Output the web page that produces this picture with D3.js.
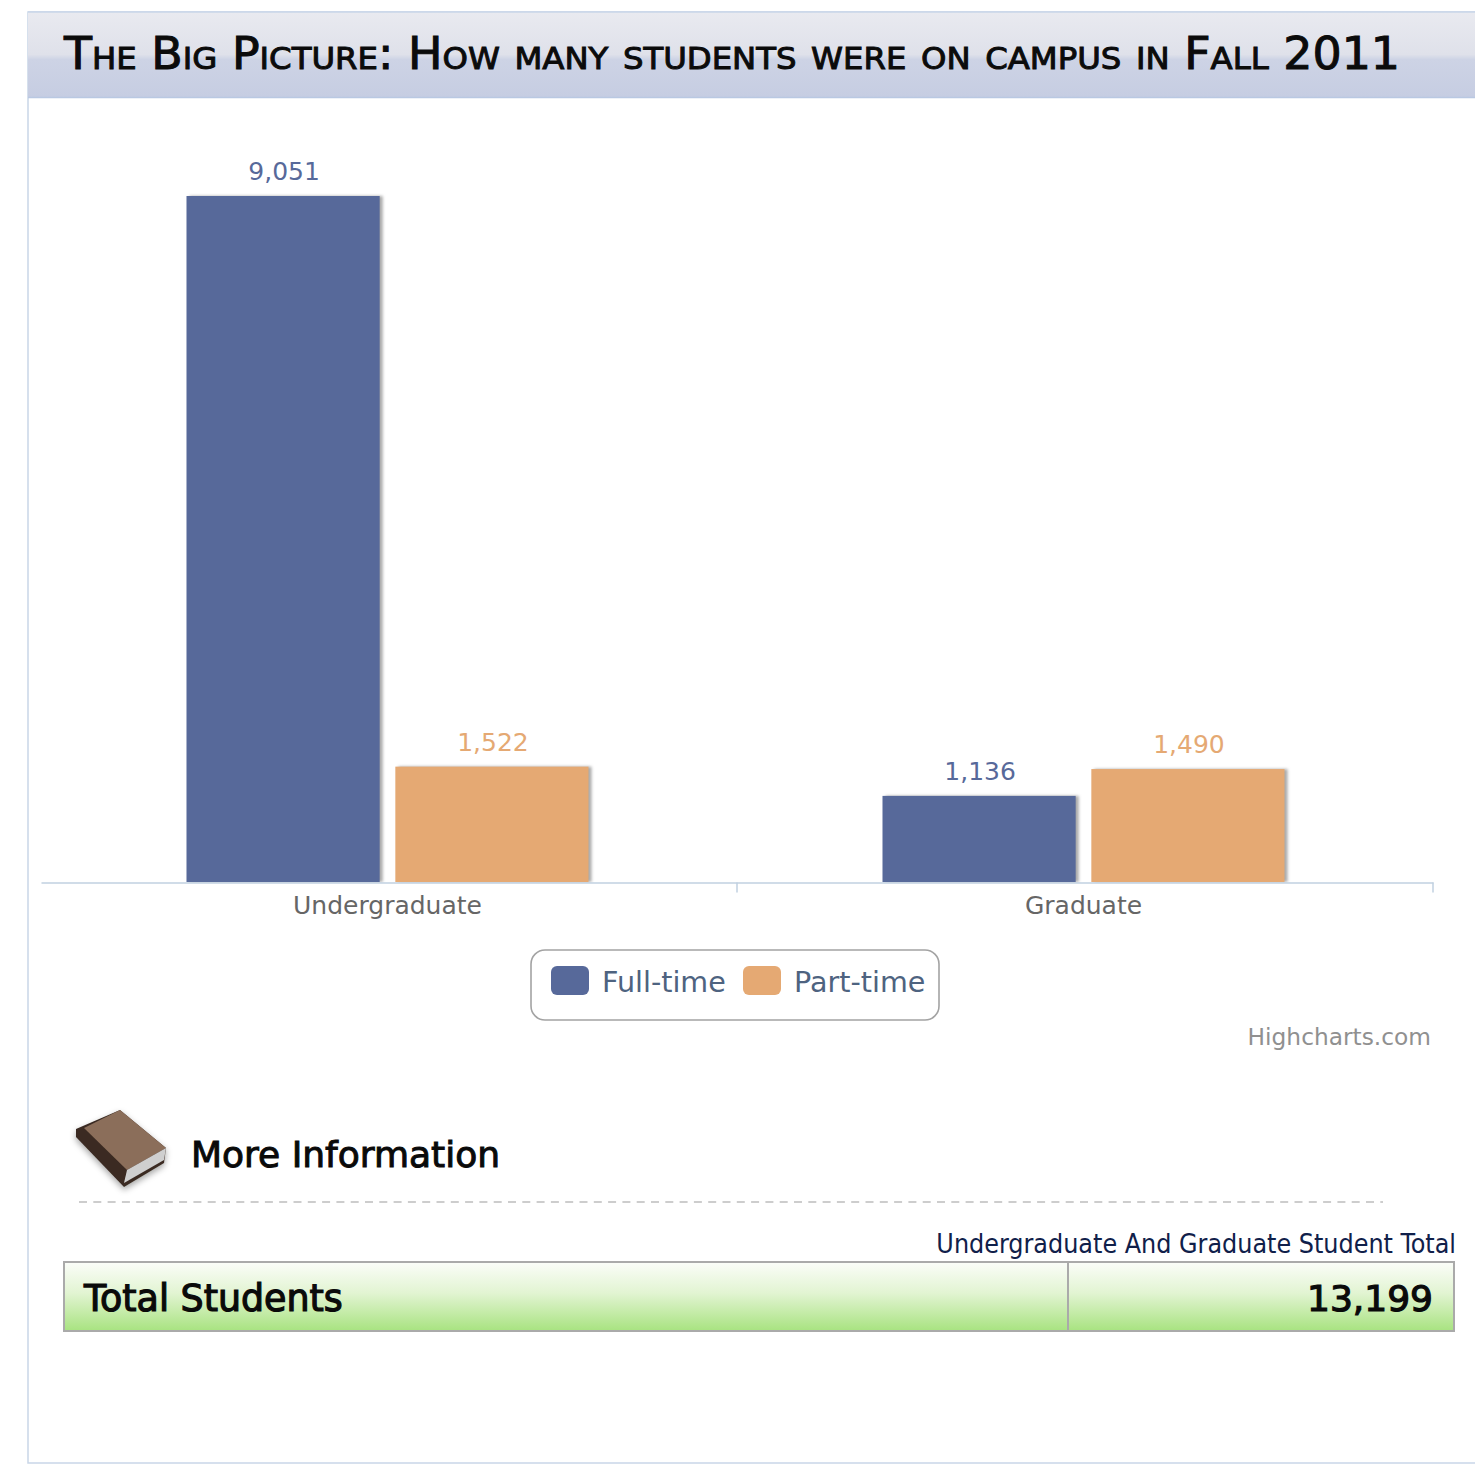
<!DOCTYPE html>
<html><head><meta charset="utf-8">
<script src="https://cdn.jsdelivr.net/npm/d3@7/dist/d3.min.js"></script>
<style>html,body{margin:0;padding:0;background:#fff;overflow:hidden}svg{display:block}text{font-family:"DejaVu Sans",sans-serif}</style>
</head><body><svg id="c" width="1475" height="1470"></svg>
<script>
const categories = ["Undergraduate", "Graduate"];
const seriesNames = ["Full-time", "Part-time"];
const fullTime = [9051, 1136];
const partTime = [1522, 1490];
const seriesColors = ["#57699a", "#e5a973"];
const titleText = "The Big Picture: How many students were on campus in Fall 2011";
const sectionText = "More Information";
const tableCaption = "Undergraduate And Graduate Student Total";
const tableLabel = "Total Students";
const tableValue = "13,199";
const credit = "Highcharts.com";

const svg = d3.select("#c");
const defs = svg.append("defs");
const hg = defs.append("linearGradient").attr("id","hg").attr("x1",0).attr("x2",0).attr("y1",0).attr("y2",1);
[[0,"#e9eaf0"],[0.5,"#dfe1ea"],[0.56,"#cdd3e5"],[1,"#c6cde2"]].forEach(s=>hg.append("stop").attr("offset",s[0]).attr("stop-color",s[1]));
const gg = defs.append("linearGradient").attr("id","gg").attr("x1",0).attr("x2",0).attr("y1",0).attr("y2",1);
[[0,"#fbfdf9"],[0.45,"#e2f4d2"],[1,"#a8e380"]].forEach(s=>gg.append("stop").attr("offset",s[0]).attr("stop-color",s[1]));
const bk = defs.append("filter").attr("id","bs").attr("x","-30%").attr("y","-30%").attr("width","160%").attr("height","160%");
bk.append("feDropShadow").attr("dx",0).attr("dy",3).attr("stdDeviation",3).attr("flood-color","#000").attr("flood-opacity",0.35);
const bl = defs.append("filter").attr("id","soft").attr("x","-10%").attr("y","-10%").attr("width","120%").attr("height","120%");
bl.append("feGaussianBlur").attr("stdDeviation",1.6);

// panel frame
svg.append("rect").attr("x",28).attr("y",12).attr("width",1460).attr("height",1451).attr("fill","#fff").attr("stroke","#c9d6e8").attr("stroke-width",1.5);
svg.append("rect").attr("x",28).attr("y",12).attr("width",1460).attr("height",85).attr("fill","url(#hg)");
svg.append("line").attr("x1",28).attr("x2",1475).attr("y1",97.5).attr("y2",97.5).attr("stroke","#b9c8e2").attr("stroke-width",1.5);
svg.append("line").attr("x1",28).attr("x2",1475).attr("y1",12).attr("y2",12).attr("stroke","#c9d6e8").attr("stroke-width",1.5);

svg.append("text").attr("x",64).attr("y",69).attr("fill","#0b0b0b")
  .style("font-variant","small-caps").style("font-size","44px")
  .attr("stroke","#0b0b0b").attr("stroke-width",1)
  .attr("textLength",1336).attr("lengthAdjust","spacingAndGlyphs").text(titleText);

// chart
const baseY = 882;
const x0 = d3.scaleBand().domain(categories).range([41,1433]);
const x1 = d3.scaleBand().domain(seriesNames).range([145.5,547.5]).paddingInner(0.075);
const y = d3.scaleLinear().domain([0,9051]).range([baseY,196]);
const rows = categories.map((c,i)=>({c, vals:[{s:seriesNames[0],v:fullTime[i],col:seriesColors[0]},{s:seriesNames[1],v:partTime[i],col:seriesColors[1]}]}));
const fmt = d3.format(",");
const groups = svg.selectAll("g.grp").data(rows).join("g").attr("class","grp").attr("transform",d=>`translate(${x0(d.c)},0)`);
groups.each(function(d){
  const g = d3.select(this);
  g.selectAll("rect.sh").data(d.vals).join("rect").attr("class","sh")
    .attr("x",v=>x1(v.s)+3).attr("y",v=>y(v.v)).attr("width",x1.bandwidth()).attr("height",v=>baseY-y(v.v))
    .attr("fill","#a8a8a8").attr("filter","url(#soft)");
  g.selectAll("rect.bar").data(d.vals).join("rect").attr("class","bar")
    .attr("x",v=>x1(v.s)).attr("y",v=>y(v.v)).attr("width",x1.bandwidth()).attr("height",v=>baseY-y(v.v))
    .attr("fill",v=>v.col);
  g.selectAll("text.lab").data(d.vals).join("text").attr("class","lab")
    .attr("x",v=>x1(v.s)+x1.bandwidth()/2+1).attr("y",v=>y(v.v)-16).attr("text-anchor","middle")
    .attr("fill",v=>v.col).style("font-size","25px").text(v=>fmt(v.v));
});
svg.append("rect").attr("x",41).attr("y",baseY+1).attr("width",1392).attr("height",8).attr("fill","#fff");

// axis
const axisG = svg.append("g").attr("transform",`translate(-1.5,${baseY+0.5})`)
  .call(d3.axisBottom(x0).tickSize(0).tickPadding(14));
axisG.select(".domain").attr("transform","translate(1.5,0)").attr("stroke","#c0d0e0").attr("stroke-width",1.5);
axisG.selectAll("text").attr("fill","#666").style("font-size","25px").style("font-family","'DejaVu Sans'");
axisG.selectAll("line.sep").data(categories.map(c=>x0(c)+x0.bandwidth())).join("line").attr("class","sep")
  .attr("transform","translate(1.5,0)")
  .attr("x1",d=>d).attr("x2",d=>d).attr("y1",0).attr("y2",10).attr("stroke","#c0d0e0").attr("stroke-width",1.5);

// legend
svg.append("rect").attr("x",531).attr("y",950).attr("width",408).attr("height",70).attr("rx",14).attr("fill","#fff").attr("stroke","#a3a3a3").attr("stroke-width",1.6);
const legX = d3.scaleOrdinal().domain(seriesNames).range([551,743]);
const leg = svg.selectAll("g.leg").data(seriesNames).join("g").attr("class","leg").attr("transform",d=>`translate(${legX(d)},966)`);
leg.append("rect").attr("width",38).attr("height",29).attr("rx",6).attr("fill",(d,i)=>seriesColors[i]);
leg.append("text").attr("x",51).attr("y",26).attr("fill","#4e6380").style("font-size","28.6px").text(d=>d);

svg.append("text").attr("x",1431).attr("y",1045).attr("text-anchor","end").attr("fill","#909090").style("font-size","23.3px").text(credit);

// book icon
const book = svg.append("g").attr("filter","url(#bs)");
book.append("path").attr("d","M76 1129 L120 1110 L166 1148 L164 1163 L124 1187 L76 1137 Z").attr("fill","#3a2a22");
book.append("path").attr("d","M84 1128 L120 1110 L166 1148 L127 1170 Z").attr("fill","#8b6e5a");
book.append("path").attr("d","M127 1170 L166 1148 L164 1160 L124 1183 Z").attr("fill","#cfcfcf");

svg.append("text").attr("x",191).attr("y",1167).attr("fill","#0a0a0a").style("font-size","36px").attr("stroke","#0a0a0a").attr("stroke-width",1).text(sectionText);
svg.append("line").attr("x1",79).attr("x2",1383).attr("y1",1202).attr("y2",1202).attr("stroke","#bdbdbd").attr("stroke-width",1.5).attr("stroke-dasharray","8 6.3");

svg.append("text").attr("x",1456).attr("y",1253).attr("text-anchor","end").attr("fill","#10204a").style("font-size","26.6px").style("font-stretch","condensed").text(tableCaption);

svg.append("rect").attr("x",64).attr("y",1262).attr("width",1390).attr("height",69).attr("fill","url(#gg)").attr("stroke","#aaa").attr("stroke-width",2);
svg.append("line").attr("x1",1068).attr("x2",1068).attr("y1",1262).attr("y2",1331).attr("stroke","#aaa").attr("stroke-width",2);
svg.append("text").attr("x",84).attr("y",1311).attr("fill","#0a0a0a").style("font-size","36.4px").attr("stroke","#0a0a0a").attr("stroke-width",1.2).text(tableLabel);
svg.append("text").attr("x",1433).attr("y",1311).attr("text-anchor","end").attr("fill","#0a0a0a").style("font-size","36px").attr("stroke","#0a0a0a").attr("stroke-width",1.2).text(tableValue);
</script></body></html>
